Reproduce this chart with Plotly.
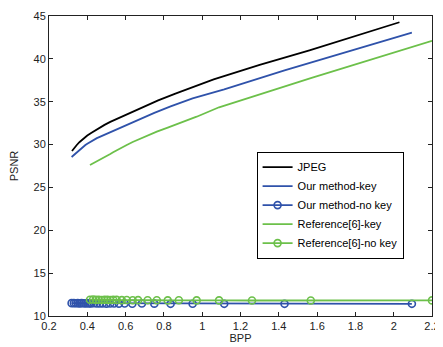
import plotly.graph_objects as go

# ---- data ----
jpeg_x = [0.32, 0.33, 0.345, 0.36, 0.38, 0.40, 0.42, 0.44, 0.46, 0.49, 0.52, 0.56, 0.60, 0.65,
          0.70, 0.77, 0.86, 0.96, 1.06, 1.30, 1.56, 2.03]
jpeg_y = [29.25, 29.55, 29.95, 30.3, 30.7, 31.05, 31.35, 31.65, 31.92, 32.3, 32.65, 33.05, 33.5, 34.0,
          34.5, 35.15, 35.95, 36.75, 37.6, 39.3, 41.0, 44.27]

our_x = [0.318, 0.33, 0.34, 0.35, 0.36, 0.37, 0.38, 0.39, 0.40, 0.41, 0.42, 0.435, 0.45, 0.465,
         0.48, 0.50, 0.52, 0.54, 0.565, 0.595, 0.635, 0.685, 0.75, 0.835, 0.95, 1.115, 1.43, 2.095]
our_key = [28.55, 28.8, 29.0, 29.2, 29.4, 29.6, 29.78, 29.95, 30.1, 30.25, 30.4, 30.58, 30.75, 30.9,
           31.05, 31.25, 31.45, 31.65, 31.9, 32.2, 32.58, 33.05, 33.7, 34.45, 35.4, 36.45, 38.65, 43.05]
our_nokey = [11.5, 11.5, 11.48, 11.5, 11.47, 11.5, 11.48, 11.46, 11.5, 11.47, 11.45, 11.48, 11.46, 11.45,
             11.47, 11.44, 11.46, 11.45, 11.44, 11.45, 11.43, 11.45, 11.44, 11.42, 11.43, 11.42, 11.42, 11.42]

ref_x = [0.414, 0.43, 0.445, 0.46, 0.475, 0.49, 0.505, 0.52, 0.535, 0.553, 0.58, 0.606, 0.637, 0.665,
         0.715, 0.763, 0.82, 0.878, 0.971, 1.088, 1.26, 1.567, 2.2]
ref_key = [27.62, 27.8, 28.0, 28.15, 28.32, 28.5, 28.7, 28.9, 29.1, 29.33, 29.65, 29.95, 30.3, 30.58,
           31.05, 31.5, 31.97, 32.45, 33.25, 34.35, 35.6, 37.75, 42.1]
ref_nokey = [11.9, 11.92, 11.88, 11.9, 11.87, 11.9, 11.88, 11.86, 11.9, 11.88, 11.85, 11.86, 11.84, 11.85,
             11.83, 11.84, 11.82, 11.83, 11.82, 11.82, 11.81, 11.81, 11.82]

x_ticks = [0.2, 0.4, 0.6, 0.8, 1.0, 1.2, 1.4, 1.6, 1.8, 2.0, 2.2]
x_labels = ["0.2", "0.4", "0.6", "0.8", "1", "1.2", "1.4", "1.6", "1.8", "2", "2.2"]
y_ticks = [10, 15, 20, 25, 30, 35, 40, 45]

BLUE = "#2f52aa"
GREEN = "#6cc04a"

fig = go.Figure()
fig.add_trace(go.Scatter(x=jpeg_x, y=jpeg_y, mode="lines", name="JPEG",
                         line=dict(color="black", width=1.8)))
fig.add_trace(go.Scatter(x=our_x, y=our_key, mode="lines", name="Our method-key",
                         line=dict(color=BLUE, width=1.8)))
fig.add_trace(go.Scatter(x=our_x, y=our_nokey, mode="lines+markers", name="Our method-no key",
                         line=dict(color=BLUE, width=1.8),
                         marker=dict(symbol="circle-open", size=7, color=BLUE, line=dict(width=1.6))))
fig.add_trace(go.Scatter(x=ref_x, y=ref_key, mode="lines", name="Reference[6]-key",
                         line=dict(color=GREEN, width=1.8)))
fig.add_trace(go.Scatter(x=ref_x, y=ref_nokey, mode="lines+markers", name="Reference[6]-no key",
                         line=dict(color=GREEN, width=1.8),
                         marker=dict(symbol="circle-open", size=7, color=GREEN, line=dict(width=1.6))))

axis_font = dict(family="Liberation Sans, Arial, sans-serif", size=11, color="#222")
# page body has an 8px default margin, so the figure is sized/margined to compensate
fig.update_layout(
    width=435, height=339,
    margin=dict(l=41, r=11, t=8, b=31),
    paper_bgcolor="white", plot_bgcolor="white",
    font=axis_font,
    showlegend=True,
    legend=dict(x=0.542, y=0.548, xanchor="left", yanchor="top",
                bgcolor="white", bordercolor="black", borderwidth=1,
                font=dict(family="Liberation Sans, Arial, sans-serif", size=11, color="black"),
                tracegroupgap=0, itemwidth=30),
    xaxis=dict(range=[0.2, 2.2], tickvals=x_ticks, ticktext=x_labels, automargin=False,
               ticks="inside", ticklen=4, tickcolor="#222", showline=True, linecolor="#222",
               linewidth=1, mirror="ticks", showgrid=False, zeroline=False,
               title=dict(text="BPP", standoff=2, font=axis_font)),
    yaxis=dict(range=[10, 45], tickvals=y_ticks, automargin=False,
               ticks="inside", ticklen=4, tickcolor="#222", showline=True, linecolor="#222",
               linewidth=1, mirror="ticks", showgrid=False, zeroline=False,
               title=dict(text="PSNR", standoff=16, font=axis_font)),
)

fig.write_html("out.html")
